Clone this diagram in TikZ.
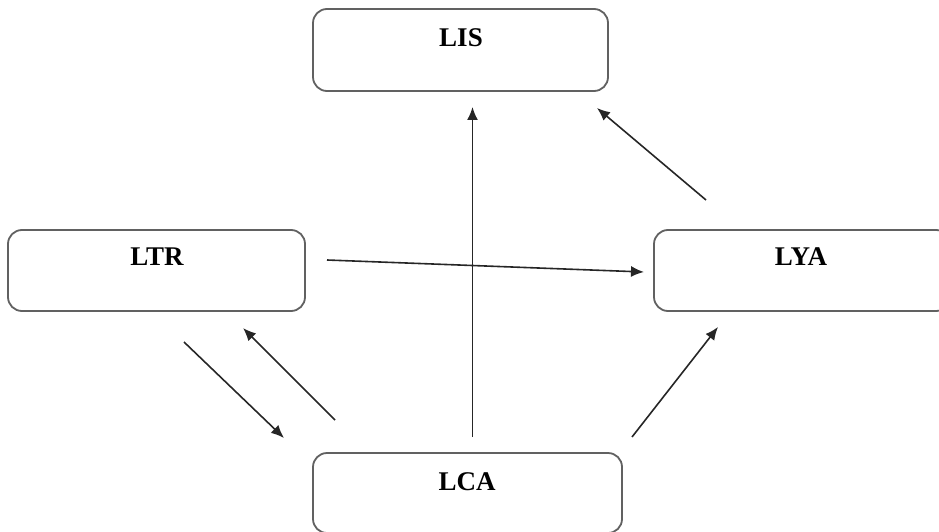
\documentclass[tikz,border=0pt]{standalone}
\usepackage{fontspec}
\setmainfont{Liberation Serif}
\usetikzlibrary{arrows.meta}
\begin{document}
\begin{tikzpicture}[x=1pt,y=-1pt,
  box/.style={draw=black!62, line width=1.8pt, rounded corners=14pt, inner sep=0pt},
  lbl/.style={font=\bfseries\fontsize{27}{32}\selectfont, inner sep=0pt},
  arr/.style={draw=black!85, line width=1.6pt, -{Latex[length=13pt,width=11pt]}}]
\useasboundingbox (0,0) rectangle (939,532);
% boxes
\node[box, minimum width=295pt, minimum height=82pt] (lis) at (460.5,50) {};
\node[box, minimum width=297pt, minimum height=81pt] (ltr) at (156.5,270.5) {};
\node[box, minimum width=296pt, minimum height=81pt] (lya) at (802,270.5) {};
\node[box, minimum width=309pt, minimum height=80pt] (lca) at (467.5,493) {};
% labels
\node[lbl] (lisT) at (461,38) {LIS};
\node[lbl] (ltrT) at (157,257) {LTR};
\node[lbl] (lyaT) at (801,257) {LYA};
\node[lbl] (lcaT) at (467,482) {LCA};
% arrow end points
\coordinate (caUp0) at (472.5,437);
\coordinate (caUp1) at (472.5,107);
\coordinate (yaIs0) at (706,200);
\coordinate (yaIs1) at (597,108);
\coordinate (trYa0) at (327,260);
\coordinate (trYa1) at (644,272);
\coordinate (trCa0) at (184,342);
\coordinate (trCa1) at (284,438);
\coordinate (caTr0) at (335,420);
\coordinate (caTr1) at (243,328);
\coordinate (caYa0) at (632,437);
\coordinate (caYa1) at (718,327);
% connectors
\draw[arr] (caUp0) -- (caUp1);
\draw[arr] (yaIs0) -- (yaIs1);
\draw[arr] (trYa0) -- (trYa1);
\draw[arr] (trCa0) -- (trCa1);
\draw[arr] (caTr0) -- (caTr1);
\draw[arr] (caYa0) -- (caYa1);
\end{tikzpicture}
\end{document}
